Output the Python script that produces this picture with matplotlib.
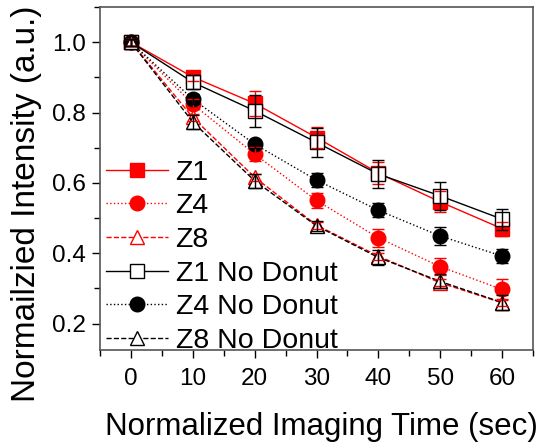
import matplotlib
matplotlib.use("Agg")
import matplotlib.pyplot as plt
from matplotlib.ticker import MultipleLocator

plt.rcParams['font.family'] = ['Liberation Sans', 'DejaVu Sans']

time = [0, 10, 20, 30, 40, 50, 60]

z1 = [1.0, 0.901, 0.826, 0.729, 0.628, 0.546, 0.470]
z1_err = [0.01, 0.01, 0.035, 0.03, 0.03, 0.03, 0.02]
z4 = [1.0, 0.824, 0.682, 0.550, 0.444, 0.362, 0.297]
z4_err = [0.01, 0.015, 0.02, 0.02, 0.025, 0.025, 0.03]
z8 = [1.0, 0.786, 0.616, 0.480, 0.392, 0.316, 0.259]
z8_err = [0.01, 0.01, 0.01, 0.01, 0.01, 0.01, 0.01]
z1nd = [1.0, 0.886, 0.805, 0.715, 0.625, 0.563, 0.497]
z1nd_err = [0.01, 0.02, 0.045, 0.04, 0.04, 0.04, 0.03]
z4nd = [1.0, 0.838, 0.710, 0.608, 0.522, 0.449, 0.392]
z4nd_err = [0.01, 0.015, 0.01, 0.02, 0.02, 0.025, 0.02]
z8nd = [1.0, 0.773, 0.606, 0.478, 0.388, 0.320, 0.260]
z8nd_err = [0.01, 0.02, 0.02, 0.015, 0.02, 0.02, 0.02]

labels = ['Z1', 'Z4', 'Z8', 'Z1 No Donut', 'Z4 No Donut', 'Z8 No Donut']

fig = plt.figure(figsize=(5.45, 4.43), dpi=100)
ax = fig.add_axes([100/545, 1-350/443, 433/545, 343/443])

series = [
    (z1, z1_err, 'red', '-', 's', 'red', labels[0]),
    (z4, z4_err, 'red', ':', 'o', 'red', labels[1]),
    (z8, z8_err, 'red', '--', '^', 'white', labels[2]),
    (z1nd, z1nd_err, 'black', '-', 's', 'white', labels[3]),
    (z4nd, z4nd_err, 'black', ':', 'o', 'black', labels[4]),
    (z8nd, z8nd_err, 'black', '--', '^', 'white', labels[5]),
]
handles = []
for vals, err, col, ls, mk, fc, lab in series:
    ax.errorbar(time, vals, yerr=err, fmt='none', ecolor=col, elinewidth=1.0,
                capsize=4, capthick=1.0, zorder=3)
    h, = ax.plot(time, vals, color=col, linestyle=ls, linewidth=1.0,
                 marker=mk, markersize=10.5, markerfacecolor=fc,
                 markeredgecolor=col, markeredgewidth=1.0, label=lab, zorder=2)
    handles.append(h)

ax.set_xlim(-5, 65)
ax.set_ylim(0.125, 1.1)
ax.xaxis.set_major_locator(MultipleLocator(10))
ax.xaxis.set_minor_locator(MultipleLocator(5))
ax.yaxis.set_major_locator(MultipleLocator(0.2))
ax.yaxis.set_minor_locator(MultipleLocator(0.1))
ax.tick_params(which='both', direction='out', top=False, right=False,
               labelsize=17.5, width=1.0, colors='black')
ax.tick_params(which='major', length=6)
ax.tick_params(axis='x', which='major', pad=7)
ax.tick_params(axis='y', which='major', pad=4)
ax.tick_params(which='minor', length=4)
ax.set_yticks([0.2, 0.4, 0.6, 0.8, 1.0])
ax.set_yticklabels(['0.2', '0.4', '0.6', '0.8', '1.0'])
for s in ax.spines.values():
    s.set_color('#555555')
    s.set_linewidth(1.2)

ax.set_xlabel('Normalized Imaging Time (sec)', fontsize=22.5)
ax.xaxis.set_label_coords((321 - 100) / 433, (350 - 427) / 343)
ax.xaxis.label.set_va('center')
ax.set_ylabel('Normailzied Intensity (a.u.)', fontsize=24)
ax.yaxis.set_label_coords((27 - 100) / 433, (350 - 204) / 343)
ax.yaxis.label.set_va('center')

ax.legend(handles=handles, loc='lower left', frameon=False, fontsize=20.5,
          handlelength=2.2, handletextpad=0.25, labelspacing=0.27,
          borderaxespad=0.0, borderpad=0.05, bbox_to_anchor=(0.01, -0.016))

fig.savefig('out.png', dpi=100)
